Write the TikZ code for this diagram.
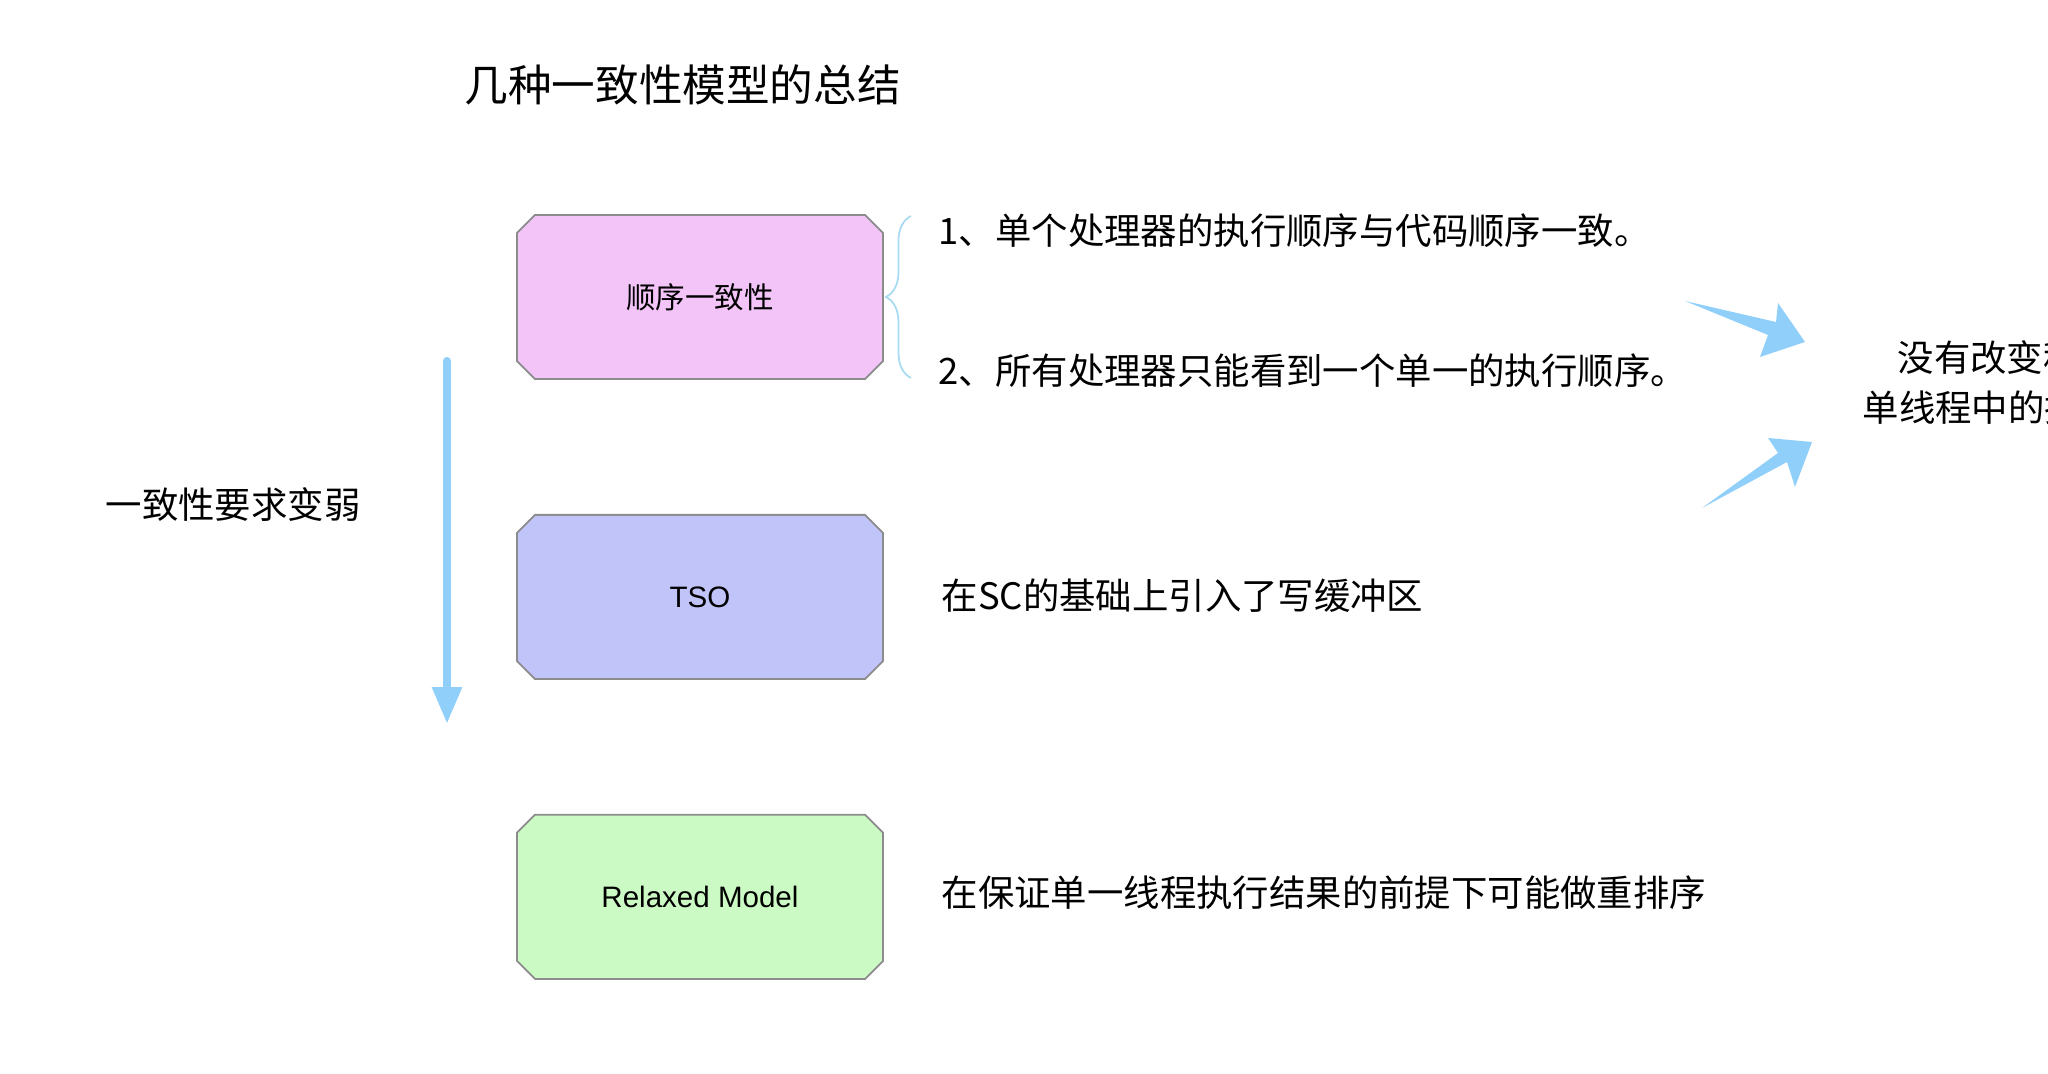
\documentclass[tikz,border=0pt]{standalone}
\usepackage{fontspec}
\newfontfamily\cjk{Noto Sans CJK SC}
\newfontfamily\latin{Liberation Sans}
\usetikzlibrary{positioning,arrows.meta,shapes.misc,decorations.pathreplacing}
\definecolor{scpink}{HTML}{F2C4F8}
\definecolor{tsoblue}{HTML}{C0C4F8}
\definecolor{relgreen}{HTML}{CCFAC4}
\definecolor{boxgray}{HTML}{8C8C8C}
\definecolor{skyarr}{HTML}{8FCFF9}
\definecolor{bracecol}{HTML}{A8DAF2}

\begin{document}
\begin{tikzpicture}[x=0.01cm, y=-0.01cm, node distance=1.34cm]
  \tikzset{
    model/.style={chamfered rectangle, chamfered rectangle xsep=0.9mm,
                  chamfered rectangle ysep=0.9mm, draw=boxgray, line width=0.5pt,
                  minimum width=3.66cm, minimum height=1.64cm, inner sep=0pt,
                  font=\fontsize{8.4}{10}\selectfont},
    desc/.style={anchor=west, inner sep=0pt, font=\cjk\fontsize{10.35}{12}\selectfont},
    fat/.style={fill=skyarr, draw=none}
  }
  \useasboundingbox (0,0) rectangle (2048,1074);
  \clip (0,0) rectangle (2048,1074);

  % title
  \node[desc, font=\cjk\fontsize{12.4}{14}\selectfont] (title) at (464,85) {几种一致性模型的总结};

  % three models, top to bottom
  \node[model, fill=scpink] (sc) at (700,297) {\cjk 顺序一致性};
  \node[model, fill=tsoblue, below=of sc] (tso) {\latin TSO};
  \node[model, fill=relgreen, below=of tso] (rm) {\latin Relaxed Model};

  % weakening arrow on the left
  \node[desc] (weak) at (105,505) {一致性要求变弱};
  \coordinate (wtop) at (447,361);
  \coordinate (wbot) at (447,724);
  \draw[skyarr, line width=2.3pt, line cap=round,
        -{Triangle[width=8pt,length=10.5pt]}] (wtop) -- (wbot);

  % brace and the two rules of SC
  \draw[bracecol, line width=0.5pt, decorate,
        decoration={brace, amplitude=0.25cm}] (911,378) -- (911,216);
  \node[desc] (rule1) at (938,231) {1、单个处理器的执行顺序与代码顺序一致。};
  \node[desc] (rule2) at (938,371) {2、所有处理器只能看到一个单一的执行顺序。};

  % descriptions
  \node[desc] (tsotxt) at (941,596) {在SC的基础上引入了写缓冲区};
  \node[desc] (rmtxt) at (941,893) {在保证单一线程执行结果的前提下可能做重排序};

  % two fat arrows to the conclusion
  \fill[fat] (1685,301) -- (1776,322) -- (1778,303) -- (1805,342)
    -- (1760,357) -- (1768,335) -- cycle;
  \fill[fat] (1702,508) -- (1787,462) -- (1795,487) -- (1812,442)
    -- (1768,438) -- (1778,453) -- cycle;

  \node[desc] (concl1) at (1897,358) {没有改变程};
  \node[desc] (concl2) at (1862,408) {单线程中的执};
\end{tikzpicture}
\end{document}
